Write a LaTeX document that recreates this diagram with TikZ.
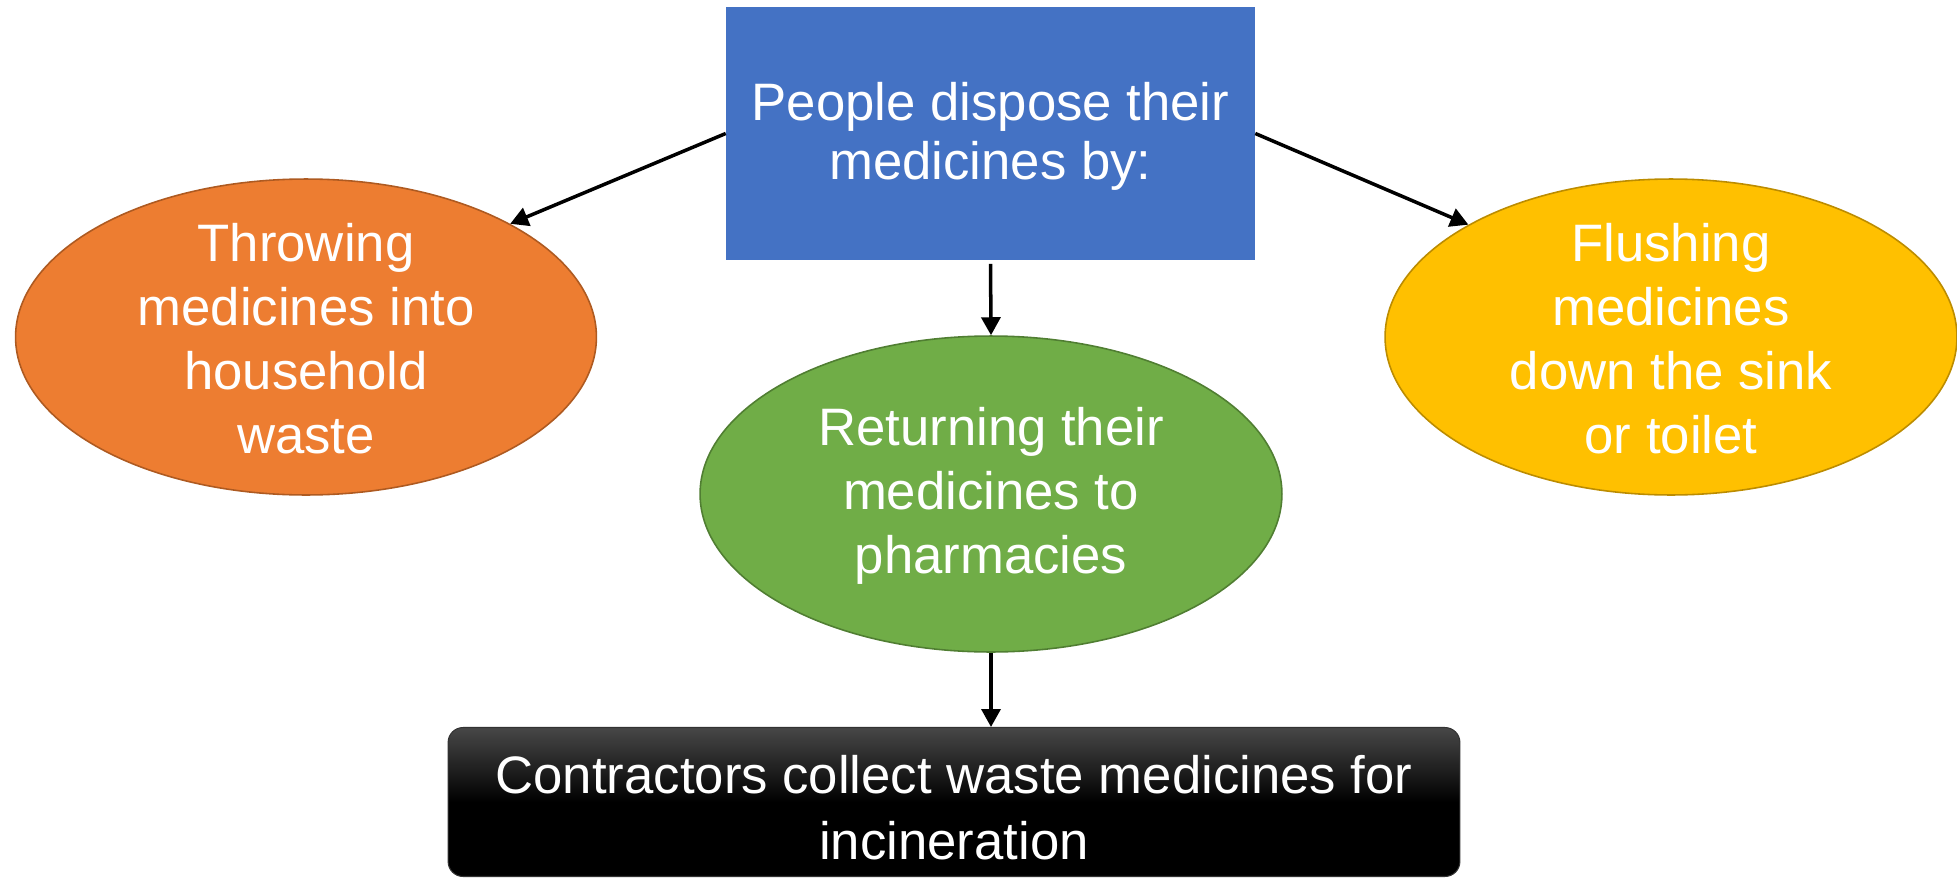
\documentclass[tikz,border=0pt]{standalone}
\usepackage{fontspec}
\setmainfont{Liberation Sans}
\usetikzlibrary{arrows.meta,shapes.geometric}

\definecolor{hdBlue}{HTML}{4472C4}
\definecolor{trashFill}{HTML}{ED7D31}
\definecolor{trashLine}{HTML}{AE5A21}
\definecolor{pharmFill}{HTML}{70AD47}
\definecolor{pharmLine}{HTML}{507E32}
\definecolor{sinkFill}{HTML}{FFC000}
\definecolor{sinkLine}{HTML}{BC8C00}

\tikzset{
    oval/.style={ellipse, line width=0.9pt, inner sep=0pt, minimum height=6.32cm},
    txt/.style={text=white, align=center, inner sep=0pt, font=\fontsize{30}{36.4}\selectfont},
    arr/.style={->, line width=2pt}
}

\begin{document}
\begin{tikzpicture}[x=0.02cm, y=-0.02cm, >={Triangle[length=0.36cm, width=0.38cm]}]
    \useasboundingbox (0, 0) rectangle (1957, 879);

    % question box on top
    \node [fill=hdBlue, minimum width=10.58cm, minimum height=5.06cm] (dispose) at (990.5, 133.5) {};
    \node [txt, font=\fontsize{30}{33.6}\selectfont] (disposeText) at (990.5, 136.5) {People dispose their\\medicines by:};

    % the three ways
    \node [oval, fill=trashFill, draw=trashLine, minimum width=11.62cm] (trash) at (306, 337) {};
    \node [txt] (trashText) at (306, 339) {Throwing\\medicines into\\household\\waste};

    \node [oval, fill=pharmFill, draw=pharmLine, minimum width=11.64cm] (pharm) at (991, 494) {};
    \node [txt] (pharmText) at (991, 496) {Returning their\\medicines to\\pharmacies};

    \node [oval, fill=sinkFill, draw=sinkLine, minimum width=11.44cm] (sink) at (1671, 337) {};
    \node [txt] (sinkText) at (1671, 339) {Flushing\\medicines\\down the sink\\or toilet};

    % what happens after the pharmacy (middle color has to come last)
    \node [rectangle, rounded corners=0.3cm, top color=black!72, bottom color=black, middle color=black,
           draw=black!80, line width=0.6pt, minimum width=20.24cm, minimum height=2.98cm] (burn) at (954, 802) {};
    \node [txt, font=\fontsize{30}{37.5}\selectfont] (burnText) at (954, 808) {Contractors collect waste medicines for\\incineration};

    \draw [arr] (dispose.west) -- (trash.29);
    \draw [arr] (dispose.east) -- (sink.151);
    \draw [arr, shorten <=2pt] (dispose.south) -- (pharm.north);
    \draw [arr] (pharm.south) -- (pharm.south |- burn.north);
\end{tikzpicture}
\end{document}
